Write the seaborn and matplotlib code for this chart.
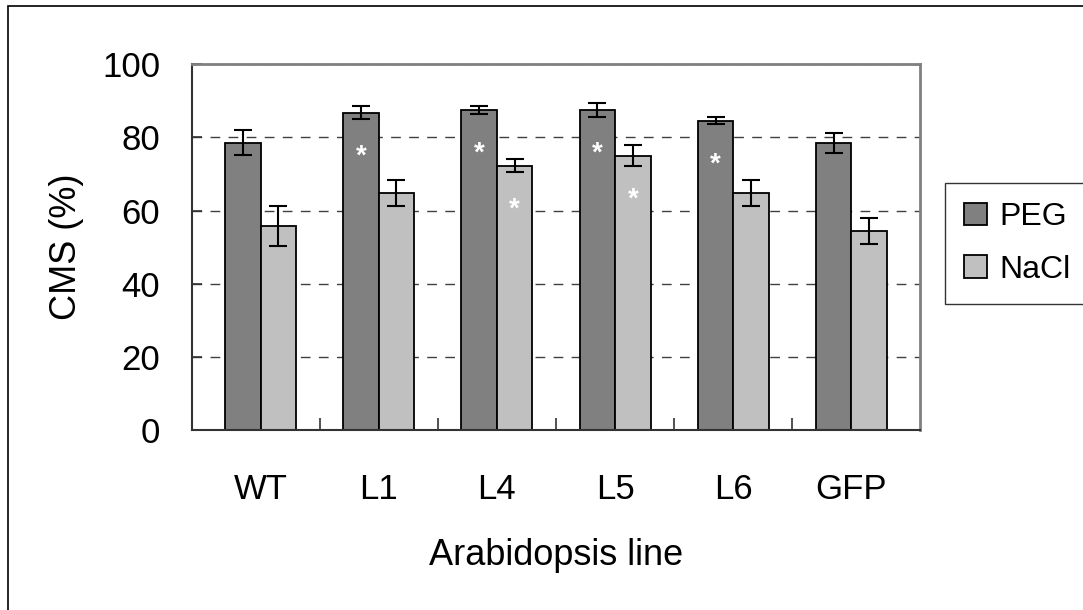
import numpy as np
import pandas as pd
import matplotlib
matplotlib.use("Agg")
import matplotlib.pyplot as plt
from matplotlib.patches import Rectangle
from matplotlib.ticker import FixedLocator
import seaborn as sns

# values
lines = ['WT', 'L1', 'L4', 'L5', 'L6', 'GFP']
peg = [78.5, 86.8, 87.5, 87.5, 84.6, 78.5]
peg_err = [3.4, 1.7, 1.1, 1.8, 1.0, 2.8]
nacl = [55.7, 64.8, 72.3, 75.0, 64.8, 54.4]
nacl_err = [5.5, 3.5, 1.8, 2.9, 3.5, 3.5]
peg_sig = [False, True, True, True, True, False]
nacl_sig = [False, False, True, True, False, False]
treatments = ['PEG', 'NaCl']

df = pd.DataFrame({
    'line': lines * 2,
    'CMS': peg + nacl,
    'treatment': ['PEG'] * len(lines) + ['NaCl'] * len(lines),
})

sns.set_style("white")
plt.rcParams['font.family'] = ['Liberation Sans', 'DejaVu Sans']
plt.rcParams['text.color'] = 'black'
plt.rcParams['axes.labelcolor'] = 'black'
plt.rcParams['xtick.labelcolor'] = 'black'
plt.rcParams['ytick.labelcolor'] = 'black'

fig = plt.figure(figsize=(10.83, 6.10), dpi=100)
ax = fig.add_axes([0.1773, 0.2951, 0.8495 - 0.1773, 0.8946 - 0.2951])

sns.barplot(data=df, x='line', y='CMS', hue='treatment', hue_order=treatments,
            palette=['#808080', '#C0C0C0'], width=0.6, gap=0, errorbar=None,
            edgecolor='black', linewidth=1.3, saturation=1, legend=False, ax=ax)

errs = [peg_err, nacl_err]
sigs = [peg_sig, nacl_sig]
for cont, err, sig in zip(ax.containers, errs, sigs):
    xs = [b.get_x() + b.get_width() / 2 for b in cont]
    hs = [b.get_height() for b in cont]
    ax.errorbar(xs, hs, yerr=err, fmt='none', ecolor='black', elinewidth=1.5,
                capsize=6.5, capthick=1.5, zorder=5)
    for x, h, s in zip(xs, hs, sig):
        if s:
            ax.text(x, h - 12, '*', color='white', fontsize=20,
                    ha='center', va='center', fontweight='bold')

ax.set_ylim(0, 100)
ax.set_yticks([0, 20, 40, 60, 80, 100])
ax.yaxis.grid(True, color='#404040', linestyle=(0, (7, 6)), linewidth=1)
ax.set_axisbelow(True)

ax.tick_params(axis='y', direction='in', length=7, width=1.2, color='#333333',
               left=True, labelsize=25, pad=23)
ax.tick_params(axis='x', which='major', length=0, labelsize=25, pad=31)
ax.xaxis.set_minor_locator(FixedLocator(np.arange(0.5, len(lines) - 0.5, 1)))
ax.tick_params(axis='x', which='minor', direction='in', length=8.5, width=1.2,
               color='#333333', bottom=True)

for side in ['left', 'bottom']:
    ax.spines[side].set_color('#333333')
    ax.spines[side].set_linewidth(1.5)
for side in ['top', 'right']:
    ax.spines[side].set_color('#808080')
    ax.spines[side].set_linewidth(2)

ax.set_xlabel('Arabidopsis line', fontsize=26, labelpad=23)
ax.set_ylabel('CMS (%)', fontsize=26, labelpad=13)

handles = [ax.containers[0][0], ax.containers[1][0]]
leg = fig.legend(handles, treatments, loc='upper left',
                 bbox_to_anchor=(0.8726, 0.5016, 0.2, 0.198),
                 bbox_transform=fig.transFigure, mode='expand',
                 borderaxespad=0, fontsize=23, frameon=True, fancybox=False,
                 handlelength=0.7, handleheight=0.7, handletextpad=0.4,
                 labelspacing=0.7, borderpad=0.6)
leg.get_frame().set_edgecolor('black')
leg.get_frame().set_linewidth(1)

# outer chart border (cut off at right and bottom as in the original)
fig.patches.append(Rectangle((8 / 1083, -0.1), 2, 1 - 6 / 610 + 0.1,
                             transform=fig.transFigure, fill=False,
                             edgecolor='black', linewidth=1.2))

fig.savefig('out.png', dpi=100)
